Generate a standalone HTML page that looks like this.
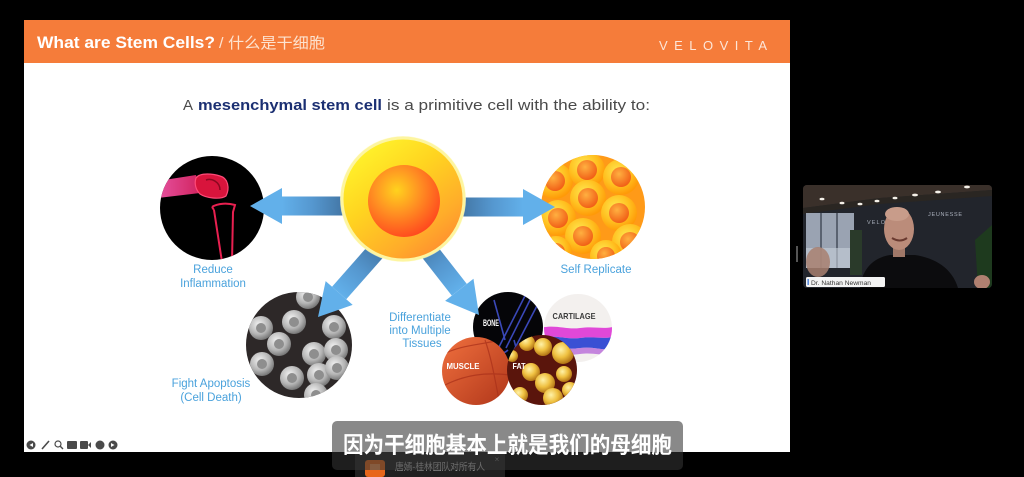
<!DOCTYPE html>
<html><head><meta charset="utf-8"><style>
html,body{margin:0;padding:0;background:#000;}
svg{display:block;}
</style></head><body>
<svg width="1024" height="477" viewBox="0 0 1024 477" xmlns="http://www.w3.org/2000/svg">
<defs>
  <linearGradient id="shaft" gradientUnits="userSpaceOnUse" x1="-100" y1="0" x2="-32" y2="0">
    <stop offset="0" stop-color="#3f6f9c"/>
    <stop offset="0.55" stop-color="#5597cf"/>
    <stop offset="1" stop-color="#62b0ea"/>
  </linearGradient>
  <linearGradient id="cellOuter" x1="0.2" y1="0.1" x2="0.85" y2="0.95">
    <stop offset="0" stop-color="#fff02a"/>
    <stop offset="0.35" stop-color="#ffd420"/>
    <stop offset="0.75" stop-color="#ffac2a"/>
    <stop offset="1" stop-color="#ff8a30"/>
  </linearGradient>
  <radialGradient id="cellInner" cx="0.4" cy="0.35" r="0.7">
    <stop offset="0" stop-color="#ffd21e"/>
    <stop offset="0.45" stop-color="#ff9222"/>
    <stop offset="1" stop-color="#ff441e"/>
  </radialGradient>
  <radialGradient id="repOuter" cx="0.4" cy="0.35" r="0.65">
    <stop offset="0" stop-color="#ffe850"/>
    <stop offset="0.6" stop-color="#ffc020"/>
    <stop offset="1" stop-color="#ff9a08"/>
  </radialGradient>
  <radialGradient id="repInner" cx="0.4" cy="0.35" r="0.7">
    <stop offset="0" stop-color="#ffb040"/>
    <stop offset="1" stop-color="#f05a14"/>
  </radialGradient>
  <radialGradient id="grayCell" cx="0.4" cy="0.35" r="0.7">
    <stop offset="0" stop-color="#f2f2f2"/>
    <stop offset="0.6" stop-color="#b4b4b4"/>
    <stop offset="1" stop-color="#6c6c6c"/>
  </radialGradient>
  <radialGradient id="fatBall" cx="0.4" cy="0.35" r="0.7">
    <stop offset="0" stop-color="#fff2a8"/>
    <stop offset="0.5" stop-color="#efc040"/>
    <stop offset="1" stop-color="#a8680e"/>
  </radialGradient>
  <linearGradient id="muscleG" x1="0" y1="0" x2="1" y2="1">
    <stop offset="0" stop-color="#f0703e"/>
    <stop offset="1" stop-color="#b0361a"/>
  </linearGradient>
  <linearGradient id="femur" x1="0" y1="0" x2="1" y2="0">
    <stop offset="0" stop-color="#ff5ab0"/>
    <stop offset="1" stop-color="#e8286a"/>
  </linearGradient>
  <clipPath id="cInfl"><circle cx="212" cy="208" r="52"/></clipPath>
  <clipPath id="cRep"><circle cx="593" cy="207" r="52"/></clipPath>
  <clipPath id="cApo"><circle cx="299" cy="345" r="53"/></clipPath>
  <clipPath id="cBone"><circle cx="508" cy="327" r="35"/></clipPath>
  <clipPath id="cCart"><circle cx="578" cy="328" r="34"/></clipPath>
  <clipPath id="cMus"><circle cx="476" cy="371" r="34"/></clipPath>
  <clipPath id="cFat"><circle cx="542" cy="370" r="35"/></clipPath>
  <clipPath id="cVid"><rect x="803" y="185" width="189" height="103" rx="4"/></clipPath>
</defs>

<!-- slide -->
<rect x="24" y="20" width="766" height="432" fill="#ffffff"/>
<rect x="24" y="20" width="766" height="43" fill="#f57c3a"/>
<text x="37" y="48" font-family="Liberation Sans, sans-serif" font-weight="bold" font-size="16.5" fill="#ffffff" textLength="178" lengthAdjust="spacingAndGlyphs">What are Stem Cells?</text>
<text x="219" y="48" font-family="Liberation Sans, 'Noto Sans CJK SC', sans-serif" font-size="15" fill="#fde3d0" textLength="106" lengthAdjust="spacingAndGlyphs">/ 什么是干细胞</text>
<text x="659" y="50" font-family="Liberation Sans, sans-serif" font-size="13" fill="#fde6d8" textLength="108" lengthAdjust="spacing">VELOVITA</text>

<!-- subheading -->
<text x="183" y="110" font-family="Liberation Sans, sans-serif" font-size="15" fill="#4a4a4a">A</text>
<text x="198" y="110" font-family="Liberation Sans, sans-serif" font-size="15" font-weight="bold" fill="#1b2f72" textLength="184" lengthAdjust="spacingAndGlyphs">mesenchymal stem cell</text>
<text x="387" y="110" font-family="Liberation Sans, sans-serif" font-size="15" fill="#4a4a4a" textLength="263" lengthAdjust="spacingAndGlyphs">is a primitive cell with the ability to:</text>

<!-- Reduce inflammation circle -->
<circle cx="212" cy="208" r="52" fill="#000"/>
<g clip-path="url(#cInfl)">
  <path d="M158,181 L196,175 L200,193 L158,198 Z" fill="url(#femur)" opacity="0.9"/>
  <path d="M196,178 C200,172 214,174 220,176 C228,178 230,188 226,196 C220,200 206,198 200,194 C196,190 194,184 196,178 Z" fill="#d8143c" stroke="#ff4a78" stroke-width="1.2"/>
  <path d="M206,180 C212,178 220,182 220,190" fill="none" stroke="#8a0820" stroke-width="1.5"/>
  <path d="M212,207 C218,203 228,203 235,205 L233,212 L232,262 M214,210 L222,262" fill="none" stroke="#e82050" stroke-width="2"/>
  <path d="M212,207 L214,210" stroke="#e82050" stroke-width="2"/>
</g>

<!-- Self replicate circle -->
<circle cx="593" cy="207" r="52" fill="#ff9a18"/>
<g clip-path="url(#cRep)">
  <g>
    <circle cx="555" cy="181" r="18" fill="url(#repOuter)"/><circle cx="555" cy="181" r="10" fill="url(#repInner)"/>
    <circle cx="587" cy="170" r="18" fill="url(#repOuter)"/><circle cx="587" cy="170" r="10" fill="url(#repInner)"/>
    <circle cx="621" cy="177" r="18" fill="url(#repOuter)"/><circle cx="621" cy="177" r="10" fill="url(#repInner)"/>
    <circle cx="558" cy="218" r="18" fill="url(#repOuter)"/><circle cx="558" cy="218" r="10" fill="url(#repInner)"/>
    <circle cx="588" cy="198" r="18" fill="url(#repOuter)"/><circle cx="588" cy="198" r="10" fill="url(#repInner)"/>
    <circle cx="619" cy="213" r="18" fill="url(#repOuter)"/><circle cx="619" cy="213" r="10" fill="url(#repInner)"/>
    <circle cx="583" cy="236" r="18" fill="url(#repOuter)"/><circle cx="583" cy="236" r="10" fill="url(#repInner)"/>
    <circle cx="630" cy="242" r="18" fill="url(#repOuter)"/><circle cx="630" cy="242" r="10" fill="url(#repInner)"/>
    <circle cx="606" cy="256" r="16" fill="url(#repOuter)"/><circle cx="606" cy="256" r="9" fill="url(#repInner)"/>
    <circle cx="556" cy="252" r="16" fill="url(#repOuter)"/><circle cx="556" cy="252" r="9" fill="url(#repInner)"/>
  </g>
</g>

<!-- Fight apoptosis circle -->
<circle cx="299" cy="345" r="53" fill="#2d2828"/>
<g clip-path="url(#cApo)">
  <g>
    <circle cx="308" cy="297" r="12" fill="url(#grayCell)"/><circle cx="308" cy="297" r="5" fill="#8e8e8e"/>
    <circle cx="261" cy="328" r="12" fill="url(#grayCell)"/><circle cx="261" cy="328" r="5" fill="#8e8e8e"/>
    <circle cx="294" cy="322" r="12" fill="url(#grayCell)"/><circle cx="294" cy="322" r="5" fill="#8e8e8e"/>
    <circle cx="279" cy="344" r="12" fill="url(#grayCell)"/><circle cx="279" cy="344" r="5" fill="#8e8e8e"/>
    <circle cx="334" cy="327" r="12" fill="url(#grayCell)"/><circle cx="334" cy="327" r="5" fill="#8e8e8e"/>
    <circle cx="262" cy="364" r="12" fill="url(#grayCell)"/><circle cx="262" cy="364" r="5" fill="#8e8e8e"/>
    <circle cx="314" cy="354" r="12" fill="url(#grayCell)"/><circle cx="314" cy="354" r="5" fill="#8e8e8e"/>
    <circle cx="336" cy="350" r="12" fill="url(#grayCell)"/><circle cx="336" cy="350" r="5" fill="#8e8e8e"/>
    <circle cx="292" cy="378" r="12" fill="url(#grayCell)"/><circle cx="292" cy="378" r="5" fill="#8e8e8e"/>
    <circle cx="319" cy="375" r="12" fill="url(#grayCell)"/><circle cx="319" cy="375" r="5" fill="#8e8e8e"/>
    <circle cx="337" cy="368" r="12" fill="url(#grayCell)"/><circle cx="337" cy="368" r="5" fill="#8e8e8e"/>
    <circle cx="316" cy="395" r="12" fill="url(#grayCell)"/><circle cx="316" cy="395" r="5" fill="#8e8e8e"/>
  </g>
</g>

<!-- Tissues -->
<circle cx="508" cy="327" r="35" fill="#050508"/>
<g clip-path="url(#cBone)" fill="none" stroke="#3a48b8" stroke-width="1.6">
  <path d="M528,290 L500,345"/><path d="M534,292 L506,348"/><path d="M540,300 L514,350"/>
  <path d="M500,345 C496,352 502,356 508,350"/><path d="M514,340 L520,362"/><path d="M494,300 L505,340"/>
</g>
<text x="491" y="326" font-family="Liberation Sans, sans-serif" font-weight="bold" font-size="9" fill="#ffffff" text-anchor="middle" textLength="16" lengthAdjust="spacingAndGlyphs">BONE</text>

<circle cx="578" cy="328" r="34" fill="#f3f0ee"/>
<g clip-path="url(#cCart)">
  <path d="M540,328 C556,324 566,330 580,328 C596,326 604,330 616,326 L616,336 C604,340 596,336 580,338 C566,340 556,334 540,338 Z" fill="#e048d8"/>
  <path d="M540,338 C556,334 566,340 580,338 C596,336 604,340 616,336 L616,348 C604,352 596,346 580,348 C566,350 556,346 540,350 Z" fill="#3a50d4"/>
  <path d="M540,350 C556,346 566,350 580,348 C596,346 604,352 616,348 L616,354 C604,357 596,352 580,354 C566,356 556,352 540,356 Z" fill="#b86ad8" opacity="0.8"/>
</g>
<text x="574" y="319" font-family="Liberation Sans, sans-serif" font-weight="bold" font-size="8.5" fill="#3a3a3a" text-anchor="middle" textLength="43" lengthAdjust="spacingAndGlyphs">CARTILAGE</text>

<circle cx="476" cy="371" r="34" fill="url(#muscleG)"/>
<g clip-path="url(#cMus)" fill="none" stroke="#a8301a" stroke-width="1.2" opacity="0.7">
  <path d="M442,355 C460,345 480,345 500,340"/><path d="M485,340 C492,360 495,380 500,405"/><path d="M445,385 C465,375 485,372 510,375"/>
</g>
<text x="463" y="369" font-family="Liberation Sans, sans-serif" font-weight="bold" font-size="8.5" fill="#ffffff" text-anchor="middle" textLength="33" lengthAdjust="spacingAndGlyphs">MUSCLE</text>

<circle cx="542" cy="370" r="35" fill="#5a150c"/>
<g clip-path="url(#cFat)">
  <circle cx="527" cy="343" r="8" fill="url(#fatBall)"/>
  <circle cx="543" cy="347" r="9" fill="url(#fatBall)"/>
  <circle cx="563" cy="353" r="11" fill="url(#fatBall)"/>
  <circle cx="531" cy="372" r="9" fill="url(#fatBall)"/>
  <circle cx="545" cy="383" r="10" fill="url(#fatBall)"/>
  <circle cx="564" cy="374" r="8" fill="url(#fatBall)"/>
  <circle cx="520" cy="395" r="8" fill="url(#fatBall)"/>
  <circle cx="553" cy="398" r="10" fill="url(#fatBall)"/>
  <circle cx="570" cy="390" r="8" fill="url(#fatBall)"/>
  <circle cx="512" cy="356" r="6" fill="url(#fatBall)"/>
</g>
<text x="519" y="369" font-family="Liberation Sans, sans-serif" font-weight="bold" font-size="8.5" fill="#ffffff" text-anchor="middle" textLength="13" lengthAdjust="spacingAndGlyphs">FAT</text>

<!-- arrows -->
<g fill="#62b0ea">
  <g transform="translate(250,206) rotate(180)">
    <polygon points="-32,-9.5 -100,-9.5 -100,9.5 -32,9.5" fill="url(#shaft)"/>
    <polygon points="0,0 -32,-18 -32,18"/>
  </g>
  <g transform="translate(555,207)">
    <polygon points="-32,-9.5 -100,-9.5 -100,9.5 -32,9.5" fill="url(#shaft)"/>
    <polygon points="0,0 -32,-18 -32,18"/>
  </g>
  <g transform="translate(318,317) rotate(131.4)">
    <polygon points="-32,-9.5 -100,-9.5 -100,9.5 -32,9.5" fill="url(#shaft)"/>
    <polygon points="0,0 -32,-18 -32,18"/>
  </g>
  <g transform="translate(479,315) rotate(52)">
    <polygon points="-32,-9.5 -100,-9.5 -100,9.5 -32,9.5" fill="url(#shaft)"/>
    <polygon points="0,0 -32,-18 -32,18"/>
  </g>
</g>

<!-- central stem cell -->
<circle cx="403" cy="199" r="63" fill="#fffbd0" opacity="0.7"/>
<circle cx="403" cy="199" r="61" fill="url(#cellOuter)" stroke="#fdf5a0" stroke-width="3"/>
<circle cx="404" cy="201" r="36" fill="url(#cellInner)"/>

<!-- labels -->
<g font-family="Liberation Sans, sans-serif" font-size="11.5" fill="#4aa2dc" text-anchor="middle">
  <text x="213" y="273">Reduce</text>
  <text x="213" y="287">Inflammation</text>
  <text x="596" y="273">Self Replicate</text>
  <text x="211" y="387">Fight Apoptosis</text>
  <text x="211" y="401">(Cell Death)</text>
  <text x="420" y="321">Differentiate</text>
  <text x="420" y="334">into Multiple</text>
  <text x="422" y="347">Tissues</text>
</g>

<!-- toolbar icons -->
<g fill="#4a4a4a" stroke="none">
  <circle cx="31" cy="445" r="4.5"/>
  <path d="M33,443 L29.5,445 L33,447 Z" fill="#fff"/>
  <path d="M42,449 L49,441" stroke="#4a4a4a" stroke-width="1.6"/>
  <circle cx="58" cy="444" r="3" fill="none" stroke="#4a4a4a" stroke-width="1.2"/>
  <path d="M60,446 L63,449" stroke="#4a4a4a" stroke-width="1.4"/>
  <rect x="67" y="441" width="10" height="8" rx="1"/>
  <rect x="80" y="441" width="8" height="8" rx="1"/>
  <path d="M88,445 L91,442 L91,448 Z"/>
  <circle cx="100" cy="445" r="4.5"/>
  <circle cx="113" cy="445" r="4.5"/>
  <path d="M111,443 L114.5,445 L111,447 Z" fill="#fff"/>
</g>

<!-- video panel -->
<g clip-path="url(#cVid)">
  <rect x="803" y="185" width="189" height="103" fill="#22252c"/>
  <path d="M803,185 L992,185 L992,190 L880,198 L803,208 Z" fill="#3a302a"/>
  <path d="M803,208 L880,198 L992,190 L992,196 L880,204 L803,214 Z" fill="#2a2622"/>
  <g fill="#f4f0e8">
    <ellipse cx="822" cy="199" rx="2.5" ry="1.3"/><ellipse cx="842" cy="203" rx="2.5" ry="1.3"/>
    <ellipse cx="860" cy="204" rx="2.5" ry="1.3"/><ellipse cx="877" cy="201" rx="2.5" ry="1.3"/>
    <ellipse cx="895" cy="198" rx="2.5" ry="1.3"/><ellipse cx="915" cy="195" rx="3" ry="1.4"/>
    <ellipse cx="938" cy="192" rx="3" ry="1.4"/><ellipse cx="967" cy="187" rx="3" ry="1.4"/>
  </g>
  <rect x="806" y="213" width="48" height="55" fill="#9aa3b2"/>
  <rect x="820" y="213" width="2" height="55" fill="#5a6270"/>
  <rect x="836" y="213" width="2" height="55" fill="#5a6270"/>
  <rect x="806" y="248" width="48" height="20" fill="#c8d0da" opacity="0.6"/>
  <rect x="850" y="230" width="12" height="45" fill="#2a3a2a"/>
  <text x="867" y="224" font-family="Liberation Sans, sans-serif" font-size="5.5" fill="#aab0bc" textLength="18" lengthAdjust="spacing">VELO</text>
  <text x="928" y="216" font-family="Liberation Sans, sans-serif" font-size="5.5" fill="#aab0bc" textLength="34" lengthAdjust="spacing">JEUNESSE</text>
  <path d="M975,240 L992,225 L992,288 L978,288 Z" fill="#1e3a1e"/>
  <path d="M860,288 C862,270 872,258 890,255 L915,255 C935,258 952,268 958,288 Z" fill="#0c0c0e"/>
  <rect x="893" y="245" width="12" height="12" fill="#a07868"/>
  <ellipse cx="899" cy="229" rx="15" ry="21" fill="#bb8c7a"/>
  <ellipse cx="897" cy="214" rx="12" ry="7" fill="#c89c8a"/>
  <path d="M892,238 Q900,243 907,238" stroke="#6a3a30" stroke-width="2" fill="none"/>
  <ellipse cx="818" cy="262" rx="12" ry="15" fill="#a88070" opacity="0.85"/>
  <ellipse cx="982" cy="282" rx="8" ry="7" fill="#b08070"/>
  <rect x="806" y="277" width="79" height="10" rx="1.5" fill="#f4f4f4"/>
  <rect x="807.5" y="279" width="1.3" height="6" fill="#3a78d8"/>
  <text x="811" y="285" font-family="Liberation Sans, sans-serif" font-size="6.5" fill="#333" textLength="60" lengthAdjust="spacingAndGlyphs">Dr. Nathan Newman</text>
</g>
<rect x="796" y="246" width="2" height="16" fill="#555"/>

<!-- notification -->
<rect x="355" y="452" width="150" height="25" fill="#202020"/>
<rect x="365" y="460" width="20" height="17" rx="3" fill="#e8661a"/>
<rect x="370" y="464" width="10" height="6" fill="#f8a060" opacity="0.8"/>
<text x="395" y="470" font-family="Liberation Sans, 'Noto Sans CJK SC', sans-serif" font-size="9.5" fill="#b8b8b8" textLength="90" lengthAdjust="spacingAndGlyphs">唐嫣-桂林团队对所有人</text>
<text x="497" y="462" font-family="Liberation Sans, sans-serif" font-size="8" fill="#8a8a8a" text-anchor="middle">×</text>

<!-- subtitle -->
<rect x="332" y="421" width="351" height="49" rx="5" fill="rgb(52,52,52)" fill-opacity="0.58"/>
<text x="343" y="453" font-family="Liberation Sans, 'Noto Sans CJK SC', sans-serif" font-weight="bold" font-size="22.5" fill="#ffffff" textLength="329" lengthAdjust="spacingAndGlyphs">因为干细胞基本上就是我们的母细胞</text>
</svg>
</body></html>
